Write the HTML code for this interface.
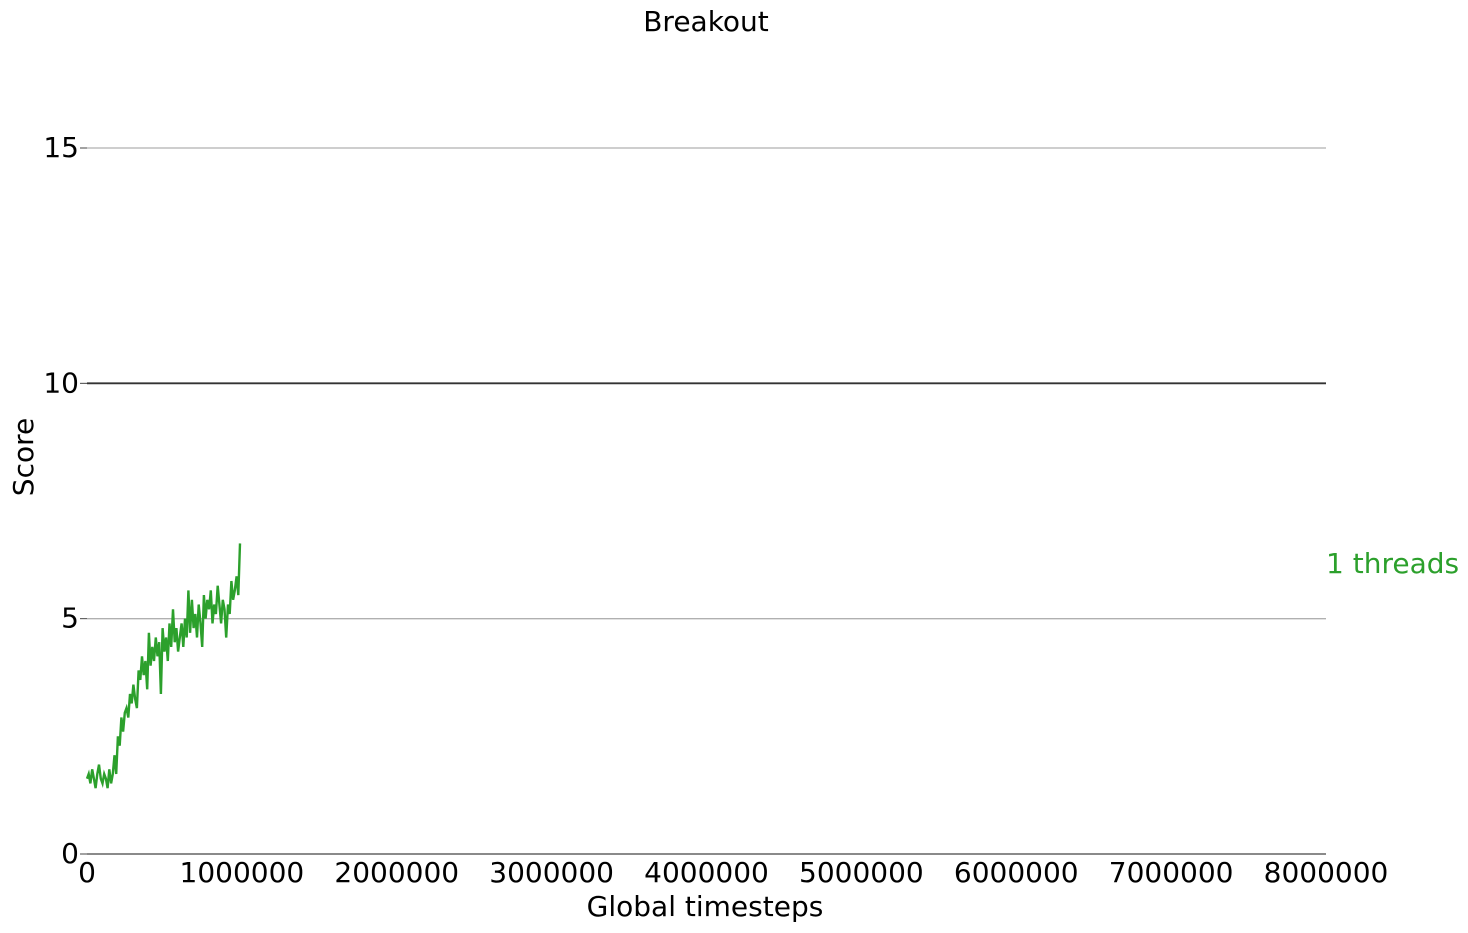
<!DOCTYPE html>
<html><head><meta charset="utf-8"><style>
body{margin:0;background:#fff;}
svg{display:block;font-family:"DejaVu Sans","Liberation Sans",sans-serif;}
</style></head><body>
<svg id="chart" width="1468" height="933">
<text x="706" y="31" font-size="28" text-anchor="middle">Breakout</text>
<g id="grid"></g>
<g id="xt"></g>
<g id="yt"></g>
<text x="705" y="916" font-size="28" text-anchor="middle">Global timesteps</text>
<text transform="translate(33,457) rotate(-90)" font-size="28" text-anchor="middle">Score</text>
<path id="line" fill="none" stroke="#2ca02c" stroke-width="2.4"></path>
<text x="1326" y="573" font-size="28" fill="#2ca02c">1 threads</text>
</svg>
<script>
const yTicks=[0,5,10,15];
const xTicks=[0,1000000,2000000,3000000,4000000,5000000,6000000,7000000,8000000];
const scores=[1.6,1.7,1.5,1.8,1.6,1.4,1.7,1.9,1.6,1.5,
1.7,1.6,1.4,1.8,1.5,1.7,2.1,1.7,2.5,2.3,
2.9,2.6,3.0,3.1,2.9,3.4,3.2,3.6,3.3,3.1,
3.9,3.7,4.2,3.8,4.1,3.5,4.7,4.0,4.4,4.1,
4.6,4.2,4.5,3.4,4.8,4.3,4.6,4.1,4.9,4.4,
5.2,4.5,4.8,4.3,4.6,4.9,4.4,5.0,4.6,5.6,
4.7,5.4,4.8,5.1,4.6,5.3,4.9,4.4,5.5,5.0,
5.4,5.2,5.6,4.9,5.3,5.1,5.7,5.3,4.9,5.4,
5.2,4.6,5.3,5.1,5.8,5.4,5.6,5.9,5.5,6.6];
const steps=scores.map((v,i)=>i*11100);
const X=v=>87+v/8000000*(1326-87);
const Y=v=>854-v/15*(854-148);
const ns="http://www.w3.org/2000/svg";
function mk(t,a,p){const e=document.createElementNS(ns,t);for(const k in a)e.setAttribute(k,a[k]);p.appendChild(e);return e;}
const grid=document.getElementById('grid'),yt=document.getElementById('yt'),xt=document.getElementById('xt');
yTicks.forEach(v=>{
 const col=v===10?'#333':(v===0?'#444':'#b0b0b0');
 const l=mk('line',{x1:87,x2:1326,y1:Y(v),y2:Y(v),stroke:col,'stroke-width':v===10?1.8:1.3},grid);
 
 
 const tk=mk('line',{x1:80,x2:87,y1:Y(v),y2:Y(v),stroke:'#444','stroke-width':1},yt);
 
 
 const t=mk('text',{x:79,y:Y(v)+9,'font-size':28,'text-anchor':'end'},yt);
 t.textContent=v;
 
 
});
xTicks.forEach(v=>{
 const t=mk('text',{x:X(v),y:882,'font-size':28,'text-anchor':'middle'},xt);
 t.textContent=v;
 
 
});
document.getElementById('line').setAttribute('d',scores.map((v,i)=>(i?'L':'M')+X(steps[i]).toFixed(1)+','+Y(v).toFixed(1)).join(''));
</script>
</body></html>
